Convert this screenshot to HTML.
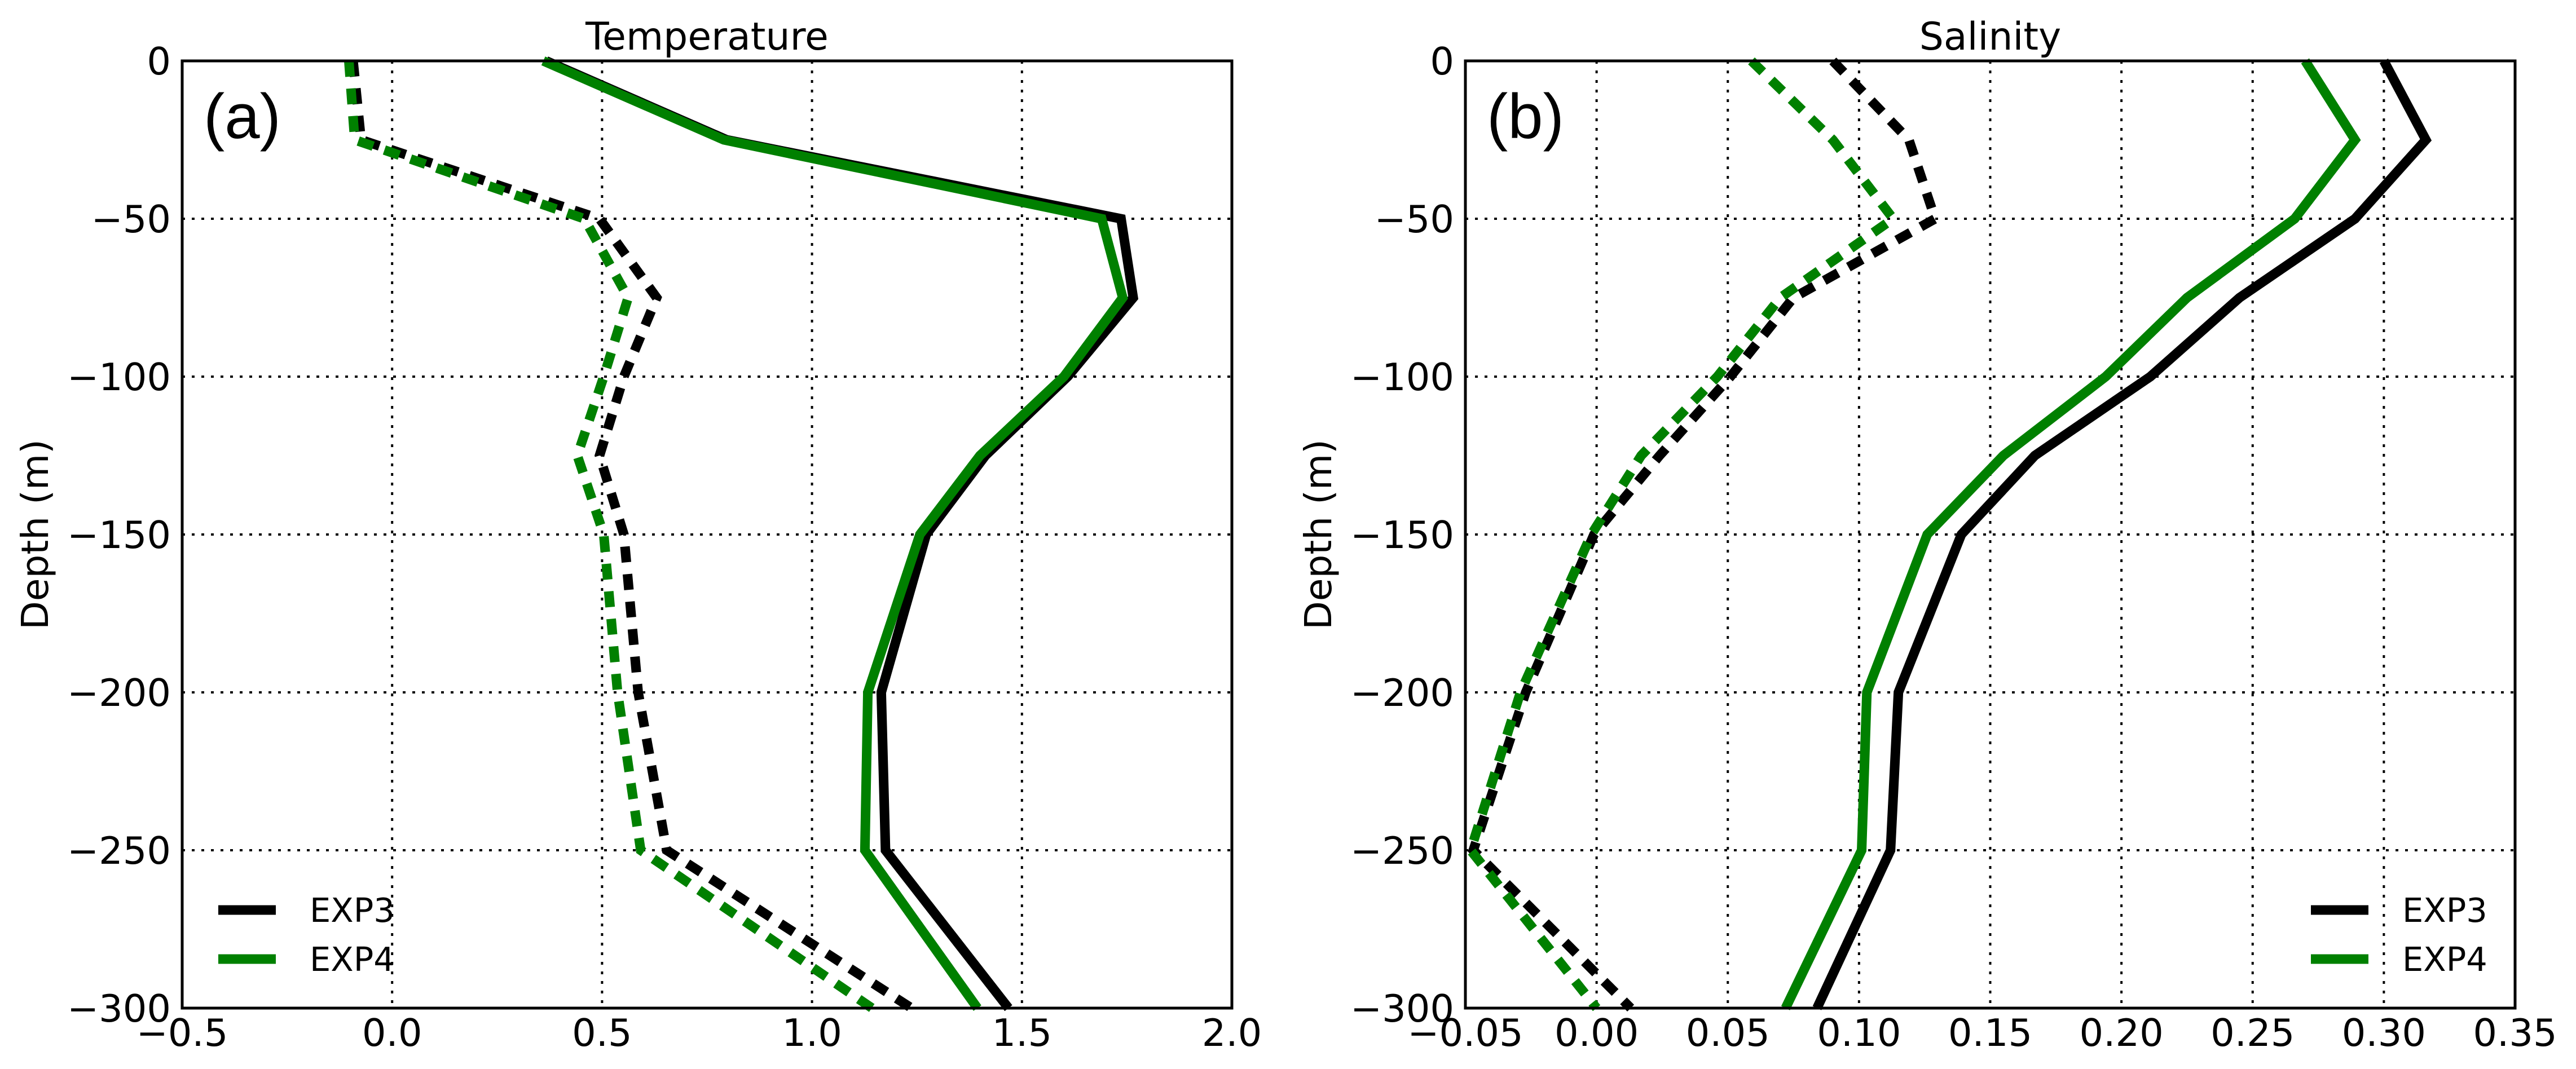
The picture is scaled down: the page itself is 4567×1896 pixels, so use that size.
<!DOCTYPE html>
<html><head><meta charset="utf-8"><style>
html,body{margin:0;padding:0;background:#fff;}
svg{display:block;font-family:"DejaVu Sans","Liberation Sans",sans-serif;}
</style></head><body>
<svg id="fig" width="4567" height="1896" viewBox="0 0 4567 1896" xmlns="http://www.w3.org/2000/svg"></svg>
<script>
const depths = [0,-25,-50,-75,-100,-125,-150,-200,-250,-300];
const tempExp3Solid = [0.367,0.797,1.736,1.765,1.609,1.413,1.272,1.165,1.175,1.468];
const tempExp4Solid = [0.36,0.79,1.69,1.74,1.60,1.40,1.257,1.133,1.126,1.394];
const tempExp3Dash = [-0.093,-0.074,0.494,0.63,0.552,0.494,0.552,0.586,0.654,1.237];
const tempExp4Dash = [-0.103,-0.089,0.458,0.562,0.504,0.441,0.504,0.537,0.592,1.143];
const salExp3Solid = [0.300,0.316,0.289,0.245,0.211,0.167,0.139,0.115,0.112,0.084];
const salExp4Solid = [0.270,0.289,0.266,0.225,0.194,0.155,0.126,0.103,0.101,0.072];
const salExp3Dash = [0.090,0.119,0.129,0.075,0.051,0.024,-0.001,-0.027,-0.047,0.013];
const salExp4Dash = [0.059,0.090,0.113,0.070,0.046,0.017,-0.002,-0.029,-0.048,0.000];
const tempTicks = [-0.5,0.0,0.5,1.0,1.5,2.0];
const tempTickLabels = ["\u22120.5","0.0","0.5","1.0","1.5","2.0"];
const salTicks = [-0.05,0,0.05,0.10,0.15,0.20,0.25,0.30,0.35];
const salTickLabels = ["\u22120.05","0.00","0.05","0.10","0.15","0.20","0.25","0.30","0.35"];
const depthTicks = [0,-50,-100,-150,-200,-250,-300];
const depthTickLabels = ["0","\u221250","\u2212100","\u2212150","\u2212200","\u2212250","\u2212300"];

const NS="http://www.w3.org/2000/svg";
const fig=document.getElementById('fig');
function mk(tag,attrs,parent){const e=document.createElementNS(NS,tag);for(const k in attrs)e.setAttribute(k,attrs[k]);(parent||fig).appendChild(e);return e;}

function panel(cfg){
  const L=cfg.left,T=108,W=1861,H=1680;
  const g=mk('g',{});
  
  
  const xs=v=>L+(v-cfg.xmin)/(cfg.xmax-cfg.xmin)*W;
  const ys=d=>T+(0-d)/300*H;
  cfg.ticks.forEach((t,i)=>{
    const x=xs(t);
    if(i>0&&i<cfg.ticks.length-1){const gl=mk('line',{x1:x,y1:T,x2:x,y2:T+H,stroke:'#000','stroke-width':4,'stroke-dasharray':'5 12'},g);
      
      }
    const tl=mk('text',{x:x,y:1855,'font-size':67,'text-anchor':'middle'},g);
    tl.textContent=cfg.labels[i];
    
    
  });
  depthTicks.forEach((d,i)=>{
    const y=ys(d);
    if(i>0&&i<depthTicks.length-1){const gl=mk('line',{x1:L,y1:y,x2:L+W,y2:y,stroke:'#000','stroke-width':4,'stroke-dasharray':'5 12'},g);
      
      }
    const tl=mk('text',{x:L-20,y:y+24,'font-size':67,'text-anchor':'end'},g);
    tl.textContent=depthTickLabels[i];
    
    
  });
  cfg.series.forEach(s=>{
    const pts=s.vals.map((v,i)=>xs(v).toFixed(1)+','+ys(depths[i]).toFixed(1)).join(' ');
    const a={points:pts,fill:'none',stroke:s.color,'stroke-width':17,'stroke-linejoin':'miter'};
    if(s.dash)a['stroke-dasharray']='28 21';
    const pl=mk('polyline',a,g);
    
    
  });
  const fr=mk('rect',{x:L,y:T,width:W,height:H,fill:'none',stroke:'#000','stroke-width':5},g);
  
  
  const ti=mk('text',{x:L+W/2,y:88,'font-size':68,'text-anchor':'middle'},g);
  ti.textContent=cfg.title;
  
  
  const pl=mk('text',{x:L+38,y:245,'font-size':112,'font-family':'Liberation Sans, sans-serif'},g);
  pl.textContent=cfg.tag;
  
  
  const yl=mk('text',{x:0,y:0,'font-size':66,'text-anchor':'middle',transform:`translate(${L-238},${T+H/2}) rotate(-90)`},g);
  yl.textContent='Depth (m)';
  
  
  const lg=mk('g',{},g);
  
  
  [['EXP3','#000'],['EXP4','#008000']].forEach((e,i)=>{
    const y=1614+i*87;
    const ln=mk('line',{x1:cfg.legX,y1:y,x2:cfg.legX+102,y2:y,stroke:e[1],'stroke-width':17},lg);
    
    
    const tx=mk('text',{x:cfg.legX+162,y:y+21,'font-size':59},lg);
    tx.textContent=e[0];
    
    
  });
}
panel({name:'temperature-panel',left:323,xmin:-0.5,xmax:2.0,ticks:tempTicks,labels:tempTickLabels,title:'Temperature',tag:'(a)',legX:387,
  series:[{name:'temp-exp3-solid',vals:tempExp3Solid,color:'#000'},{name:'temp-exp4-solid',vals:tempExp4Solid,color:'#008000'},
          {name:'temp-exp3-dashed',vals:tempExp3Dash,color:'#000',dash:1},{name:'temp-exp4-dashed',vals:tempExp4Dash,color:'#008000',dash:1}]});
panel({name:'salinity-panel',left:2598,xmin:-0.05,xmax:0.35,ticks:salTicks,labels:salTickLabels,title:'Salinity',tag:'(b)',legX:4097,
  series:[{name:'sal-exp3-solid',vals:salExp3Solid,color:'#000'},{name:'sal-exp4-solid',vals:salExp4Solid,color:'#008000'},
          {name:'sal-exp3-dashed',vals:salExp3Dash,color:'#000',dash:1},{name:'sal-exp4-dashed',vals:salExp4Dash,color:'#008000',dash:1}]});
</script>
</body></html>
